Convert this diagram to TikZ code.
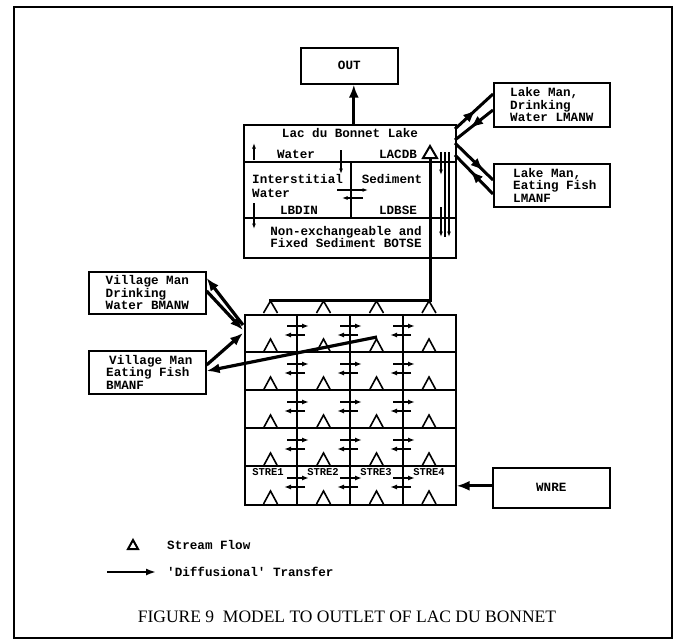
\documentclass[tikz,border=0pt]{standalone}
\usepackage{fontspec}
\setmainfont{Liberation Serif}
\setmonofont{Liberation Mono}
\usetikzlibrary{arrows.meta,decorations.markings}
\begin{document}
\begin{tikzpicture}[x=1pt,y=-1pt,
  tt/.style={font=\ttfamily\bfseries\fontsize{12.6}{12.6}\selectfont, inner sep=0pt, align=left},
  ttc/.style={font=\ttfamily\bfseries\fontsize{12.6}{12.6}\selectfont, inner sep=0pt},
  small/.style={font=\ttfamily\bfseries\fontsize{10.5}{10.5}\selectfont, inner sep=0pt},
  box/.style={draw, line width=1.6pt, anchor=north west, inner sep=0pt},
  conn/.style={line width=3.2pt, -{Latex[length=13pt,width=10pt]}},
  flow/.style={line width=3pt},
  midarr/.style={line width=3pt, postaction={decorate},
     decoration={markings, mark=at position #1 with {\arrow{Latex[length=13pt,width=10pt]}}}},
  sarr/.style={line width=1.6pt, -{Latex[length=7pt,width=5pt]}},
  tarr/.style={line width=1.1pt, -{Latex[length=5.5pt,width=4pt]}},
  tri/.style={line width=1.6pt, line join=miter},
  gridline/.style={line width=1.6pt}
]
\useasboundingbox (0,0) rectangle (680,643);
% frame
\draw[line width=2.2pt] (14,7) rectangle (672,638);

% OUT box
\node[box, minimum width=97pt, minimum height=36pt] (out) at (300,47) {};
\node[ttc] (outt) at (out.center) {OUT};

% Lake box
\node[box, minimum width=212pt, minimum height=133pt] (lake) at (243,124) {};
\draw[gridline] (243,162) -- (455,162);
\draw[gridline] (243,218) -- (455,218);
\draw[gridline] (351,162) -- (351,218);
\node[ttc] (lt) at (350,133) {Lac du Bonnet Lake};
\node[ttc] (lw) at (296,154) {Water};
\node[ttc] (lacdb) at (398,154) {LACDB};
\node[tt, anchor=west, font=\ttfamily\bfseries\fontsize{12.6}{14}\selectfont] (lint) at (252,186) {Interstitial\\Water};
\node[ttc] (lsed) at (392,179) {Sediment};
\node[ttc] (lbdin) at (299,210) {LBDIN};
\node[ttc] (ldbse) at (398,210) {LDBSE};
\node[tt, align=center] (lbot) at (346,237) {Non-exchangeable and\\Fixed Sediment BOTSE};
% LACDB triangle
\draw[tri, line width=2pt] (423,158) -- (430,146) -- (437,158) -- cycle;
% internal small arrows
\draw[tarr] (254,160) -- (254,143);
\draw[tarr] (254,203) -- (254,229);
\draw[tarr] (341,150) -- (341,174);
\draw[tarr] (337,190) -- (368,190);
\draw[tarr] (363,198) -- (342,198);
\draw[tarr] (441,152) -- (441,175);
\draw[tarr] (441,207) -- (441,237);
\draw[line width=1.1pt] (445,152) -- (445,237);
\draw[tarr] (449,152) -- (449,237);

% OUT arrow
\draw[conn] ([xshift=4pt]lake.north) -- ([xshift=4pt]lake.north |- out.south);

% Lake Man boxes
\node[box, minimum width=116pt, minimum height=44pt] (lmanw) at (493,82) {};
\node[tt] (lmanwt) at (lmanw.center) {Lake Man,\\Drinking\\Water LMANW};
\node[box, minimum width=116pt, minimum height=43pt] (lmanf) at (493,163) {};
\node[tt] (lmanft) at ([xshift=3pt]lmanf.center) {Lake Man,\\Eating Fish\\LMANF};

\coordinate (lr1) at (455,129);
\coordinate (lr2) at (455,140);
\coordinate (lr3) at (455,143);
\coordinate (lr4) at (455,155);
\draw[midarr=0.55] (lr1) -- ([yshift=-12pt]lmanw.north west);
\draw[midarr=0.6] ([yshift=-28pt]lmanw.north west) -- (lr2);
\draw[midarr=0.75] (lr3) -- ([yshift=-17pt]lmanf.north west);
\draw[midarr=0.6] ([yshift=-31pt]lmanf.north west) -- (lr4);

% stream grid
\node[box, minimum width=211pt, minimum height=190pt] (grid) at (244,314) {};
\foreach \yy in {352,390,428,466} \draw[gridline] (244,\yy) -- (455,\yy);
\foreach \xx in {297,350,403} \draw[gridline] (\xx,314) -- (\xx,504);
\foreach \yy in {352,390,428,466,504}
  \foreach \xx in {270.5,323.5,376.5,429}
    \draw[tri] ({\xx-7},\yy) -- (\xx,{\yy-13}) -- ({\xx+7},\yy);
\foreach \xx in {270.5,323.5,376.5,429}
  \draw[tri] ({\xx-7},313) -- (\xx,301) -- ({\xx+7},313);
\foreach \yy in {314,352,390,428,466}
  \foreach \xx in {297,350,403} {
    \draw[sarr] ({\xx-10},{\yy+12}) -- ({\xx+12},{\yy+12});
    \draw[sarr] ({\xx+8},{\yy+21}) -- ({\xx-13},{\yy+21});
  }
\node[small] (s1) at (268,472) {STRE1};
\node[small] (s2) at (323,472) {STRE2};
\node[small] (s3) at (376,472) {STRE3};
\node[small] (s4) at (429,472) {STRE4};

% stream flow to lake
\coordinate (gtop) at (269,300);
\draw[flow] (430,158) -- (430,300) -- (gtop);

% Village man boxes
\node[box, minimum width=117pt, minimum height=42pt] (bmanw) at (88,271) {};
\node[tt] (bmanwt) at (bmanw.center) {Village Man\\Drinking\\Water BMANW};
\node[box, minimum width=117pt, minimum height=43pt] (bmanf) at (88,350) {};
\node[tt] (bmanft) at ([xshift=2pt]bmanf.center) {\hspace{3pt}Village Man\\Eating Fish\\BMANF};

\coordinate (gl1) at (243,325);
\coordinate (gl2) at (243,330);
\coordinate (gl3) at (243,333);
\coordinate (gin) at (377,337);
\draw[conn] (gl1) -- ([yshift=-7pt]bmanw.north east);
\draw[conn] ([yshift=-20pt]bmanw.north east) -- (gl2);
\draw[conn] ([yshift=-15pt]bmanf.north east) -- (gl3);
\draw[conn] (gin) -- ([yshift=-21pt]bmanf.north east);

% WNRE
\node[box, minimum width=117pt, minimum height=40pt] (wnre) at (492,467) {};
\node[ttc] (wnret) at (wnre.center) {WNRE};
\draw[conn] ([yshift=2pt]wnre.west) -- ([yshift=2pt]wnre.west -| grid.east);

% legend
\draw[tri, line width=2pt] (128,549) -- (133,540) -- (138,549) -- cycle;
\node[tt, anchor=west] (lg1) at (167,545) {Stream Flow};
\coordinate (la1) at (107,572);
\coordinate (la2) at (156,572);
\draw[line width=1.8pt, -{Latex[length=10pt,width=7pt]}] (la1) -- (la2);
\node[tt, anchor=west] (lg2) at (167,572) {'Diffusional' Transfer};

% caption
\node[font=\fontsize{17.5}{17.5}\selectfont, inner sep=0pt] (cap) at (347,617) {FIGURE 9\ \ MODEL TO OUTLET OF LAC DU BONNET};
\end{tikzpicture}
\end{document}
